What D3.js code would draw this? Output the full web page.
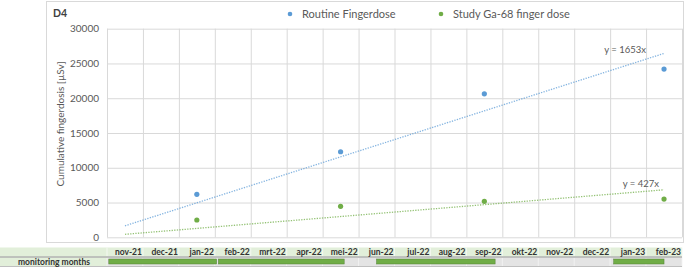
<!DOCTYPE html>
<html>
<head>
<meta charset="utf-8">
<script src="https://cdn.jsdelivr.net/npm/d3@7"></script>
<style>
	body { margin: 0; background: #fff; }
	text { font-family: Lato, "Liberation Sans", sans-serif; }
</style>
</head>
<body>
<div id="chart"></div>
<script>
// month labels (x = 1..16)
const months = ["nov-21", "dec-21", "jan-22", "feb-22", "mrt-22", "apr-22", "mei-22", "jun-22",
	"jul-22", "aug-22", "sep-22", "okt-22", "nov-22", "dec-22", "jan-23", "feb-23"];

const seriesNames = ["Routine Fingerdose", "Study Ga-68 finger dose"];
const seriesColors = ["#5b9bd5", "#70ad47"];

// measurement months (index into months, 1-based) and cumulative doses
const measureX = [3, 7, 11, 16];
const routineDose = [6180, 12300, 20640, 24190];
const studyDose = [2490, 4460, 5170, 5500];

// linear trend through origin
const trendSlopes = [1653, 427];
const trendLabels = ["y = 1653x", "y = 427x"];

const yTicks = [0, 5000, 10000, 15000, 20000, 25000, 30000];

// monitoring periods (month units)
const monitorPeriods = [[0.55, 3.55], [3.6, 7.1], [8.0, 11.3], [14.6, 16.0]];

const W = 685, H = 267;
const margin = {left: 107, right: 3, top: 28.7, bottom: 29.7};

const svg = d3.select("#chart").append("svg")
	.attr("width", W)
	.attr("height", H);

const x = d3.scaleLinear()
	.domain([0.5, months.length + 0.5])
	.range([margin.left, W - margin.right]);

const y = d3.scaleLinear()
	.domain([0, 30000])
	.range([H - margin.bottom, margin.top]);

const plotW = x.range()[1] - x.range()[0];
const plotH = y.range()[0] - y.range()[1];

// chart frame
svg.append("rect")
	.attr("x", 46.5).attr("y", 1.5)
	.attr("width", 637).attr("height", 241)
	.attr("fill", "#fff")
	.attr("stroke", "#d9d9d9");

// horizontal grid + y labels
const yAxis = svg.append("g")
	.attr("transform", "translate(" + margin.left + ",0)")
	.call(d3.axisLeft(y).tickValues(yTicks).tickSize(-plotW).tickPadding(8).tickFormat(d3.format("d")));
yAxis.select(".domain").remove();
yAxis.selectAll("line").attr("stroke", "#d9d9d9");
yAxis.selectAll("text")
	.attr("fill", "#595959")
	.style("font-size", "10px")
	.style("font-family", "Lato, sans-serif");

// vertical grid
const xGridVals = d3.range(0, months.length + 1).map(i => i + 0.5);
const xAxis = svg.append("g")
	.attr("transform", "translate(0," + y(0) + ")")
	.call(d3.axisBottom(x).tickValues(xGridVals).tickSize(-plotH).tickFormat(""));
xAxis.select(".domain").remove();
xAxis.selectAll("line").attr("stroke", "#d9d9d9");

// y title
svg.append("text")
	.attr("transform", "translate(64,124) rotate(-90)")
	.attr("text-anchor", "middle")
	.attr("fill", "#595959")
	.style("font-size", "10px")
	.text("Cumulative fingerdosis [µSv]");

// panel title
svg.append("text")
	.attr("x", 53).attr("y", 17)
	.attr("fill", "#404040")
	.style("font-size", "10.5px")
	.style("font-weight", "bold")
	.text("D4");

// legend
const legend = svg.selectAll(".legend")
	.data(seriesNames)
	.enter().append("g")
	.attr("class", "legend")
	.attr("transform", (d, i) => "translate(" + [290, 441][i] + ",14)");
legend.append("circle")
	.attr("r", 2.3)
	.attr("fill", (d, i) => seriesColors[i]);
legend.append("text")
	.attr("x", 12).attr("y", 4)
	.attr("fill", "#595959")
	.style("font-size", "11px")
	.text(d => d);

// trend lines
const trendX = [1, months.length];
trendSlopes.forEach((k, i) => {
	svg.append("path")
		.datum(trendX)
		.attr("fill", "none")
		.attr("stroke", seriesColors[i])
		.attr("stroke-opacity", 0.75)
		.attr("stroke-width", 1.3)
		.attr("stroke-dasharray", "1.3,1.3")
		.attr("d", d3.line().x(d => x(d)).y(d => y(k * d)));
});

// trend labels
svg.selectAll(".trendlabel")
	.data(trendLabels)
	.enter().append("text")
	.attr("class", "trendlabel")
	.attr("x", (d, i) => x(months.length) - [18, 5][i])
	.attr("y", (d, i) => y(trendSlopes[i] * months.length) - [0, 3][i])
	.attr("text-anchor", "end")
	.attr("fill", "#595959")
	.style("font-size", "9.5px")
	.text(d => d);

// points
[routineDose, studyDose].forEach((vals, i) => {
	svg.selectAll(".pt" + i)
		.data(vals)
		.enter().append("circle")
		.attr("class", "pt" + i)
		.attr("cx", (d, j) => x(measureX[j]))
		.attr("cy", d => y(d))
		.attr("r", 2.6)
		.attr("fill", seriesColors[i]);
});

// ---- table under the chart ----
const row1 = {y: 247.5, h: 9};
const row2 = {y: 257.5, h: 9};

svg.append("rect")
	.attr("x", 0).attr("y", row1.y)
	.attr("width", x.range()[1]).attr("height", row1.h)
	.attr("fill", "#e2efda");

svg.append("rect")
	.attr("x", 0).attr("y", row2.y)
	.attr("width", margin.left).attr("height", row2.h)
	.attr("fill", "#e2efda");

svg.selectAll(".cell2")
	.data(months)
	.enter().append("rect")
	.attr("class", "cell2")
	.attr("x", (d, i) => x(i + 0.5))
	.attr("y", row2.y)
	.attr("width", x(1.5) - x(0.5))
	.attr("height", row2.h)
	.attr("fill", "#e4e4e4")
	.attr("stroke", "#f2f2f2")
	.attr("stroke-width", 0.8);

svg.selectAll(".sep1")
	.data(xGridVals)
	.enter().append("line")
	.attr("class", "sep1")
	.attr("x1", d => x(d)).attr("x2", d => x(d))
	.attr("y1", row1.y).attr("y2", row1.y + row1.h)
	.attr("stroke", "#f4f8f1");

svg.append("line")
	.attr("x1", 0).attr("x2", x.range()[1])
	.attr("y1", row2.y - 0.5).attr("y2", row2.y - 0.5)
	.attr("stroke", "#8c8c8c");

svg.append("line")
	.attr("x1", 0).attr("x2", x.range()[1])
	.attr("y1", row2.y + row2.h).attr("y2", row2.y + row2.h)
	.attr("stroke", "#bfbfbf");

svg.selectAll(".mlabel")
	.data(months)
	.enter().append("text")
	.attr("class", "mlabel")
	.attr("x", (d, i) => x(i + 1) + 17)
	.attr("y", row1.y + 7.5)
	.attr("text-anchor", "end")
	.attr("fill", "#333")
	.style("font-size", "8.5px")
	.style("font-weight", "bold")
	.text(d => d);

svg.append("text")
	.attr("x", 54).attr("y", row2.y + 7.3)
	.attr("text-anchor", "middle")
	.attr("fill", "#333")
	.style("font-size", "8.5px")
	.style("font-weight", "bold")
	.text("monitoring months");

svg.selectAll(".period")
	.data(monitorPeriods)
	.enter().append("rect")
	.attr("class", "period")
	.attr("x", d => x(d[0]))
	.attr("y", row2.y + 1.5)
	.attr("width", d => x(d[1]) - x(d[0]))
	.attr("height", 5)
	.attr("fill", "#70ad47")
	.attr("stroke", "#548235")
	.attr("stroke-width", 0.5);
</script>
</body>
</html>
